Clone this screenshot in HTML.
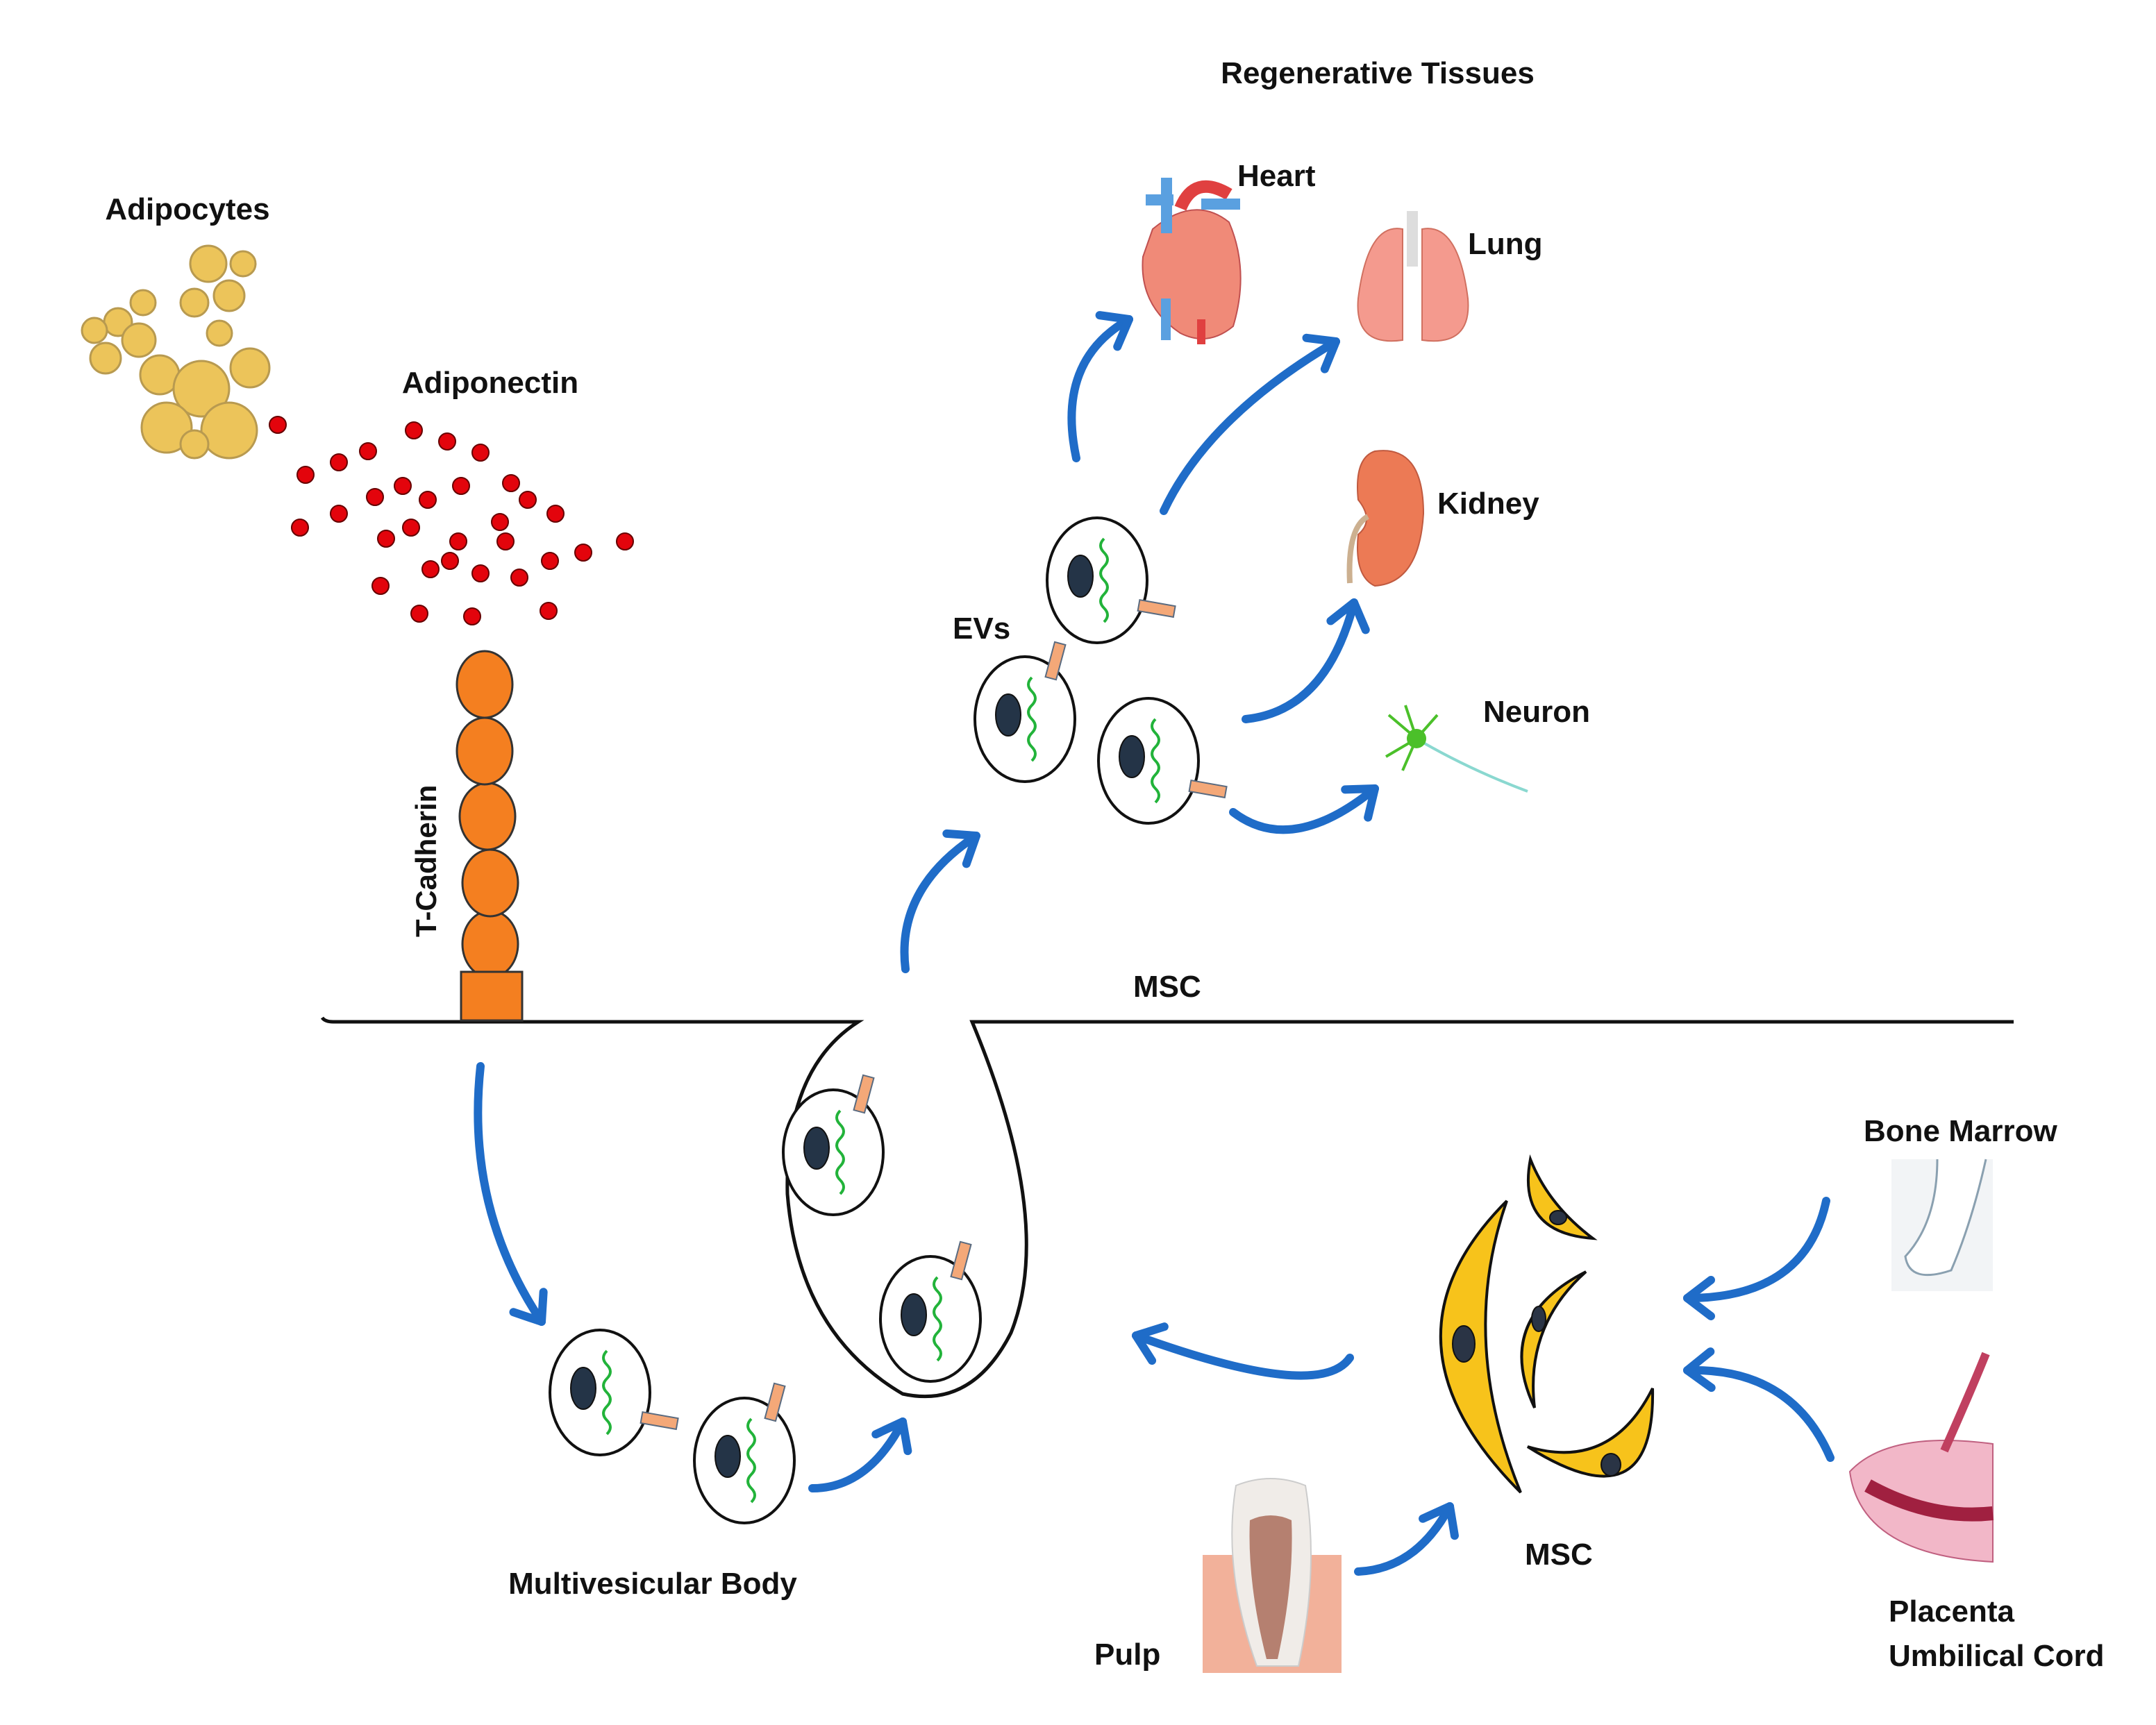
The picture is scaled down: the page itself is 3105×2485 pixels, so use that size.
<!DOCTYPE html>
<html><head><meta charset="utf-8"><style>
html,body{margin:0;padding:0;background:#fff;}
svg{display:block;}
text{font-family:"Liberation Sans",sans-serif;font-weight:bold;fill:#111;}
</style></head><body>
<svg width="3105" height="2485" viewBox="0 0 1552.5 1242.5" xmlns="http://www.w3.org/2000/svg">
<defs>
<marker id="ah" markerUnits="userSpaceOnUse" markerWidth="40" markerHeight="40" refX="0" refY="0" viewBox="-25 -20 30 40" orient="auto">
<path d="M-17,-13 L0,0 L-17,13" stroke="#1f6cc8" stroke-width="6" fill="none" stroke-linecap="round" stroke-linejoin="round"/>
</marker>
<g id="evb">
<ellipse cx="0" cy="0" rx="36" ry="45" fill="#fff" stroke="#111" stroke-width="2"/>
<ellipse cx="-12" cy="-3" rx="9" ry="15" fill="#243447" stroke="#111" stroke-width="1"/>
<path d="M5,-30 q-5,5 0,10 q5,5 0,10 q-5,5 0,10 q5,5 0,10 q-5,5 0,10 q5,5 0,10" stroke="#22b33a" stroke-width="2" fill="none"/>
</g>
<g id="ev">
<use href="#evb"/>
<rect x="18" y="-55" width="8" height="26" fill="#f4a878" stroke="#5a6b80" stroke-width="1" transform="rotate(15 22 -42)"/>
</g>
<g id="ev2">
<use href="#evb"/>
<rect x="30" y="14" width="26" height="8" fill="#f4a878" stroke="#5a6b80" stroke-width="1" transform="rotate(10 30 18)"/>
</g>
</defs>

<!-- membrane -->
<path d="M232,733 Q234,736 240,736 L618,736 Q565,770 567,860 Q575,960 650,1004 Q700,1015 728,960 Q760,880 700,736 L1450,736" fill="none" stroke="#111" stroke-width="2.5"/>

<!-- adipocytes -->
<g fill="#ecc45a" stroke="#b89a50" stroke-width="1.5">
<circle cx="150" cy="190" r="13"/><circle cx="175" cy="190" r="9"/><circle cx="140" cy="218" r="10"/><circle cx="165" cy="213" r="11"/>
<circle cx="103" cy="218" r="9"/><circle cx="85" cy="232" r="10"/><circle cx="68" cy="238" r="9"/><circle cx="100" cy="245" r="12"/>
<circle cx="158" cy="240" r="9"/><circle cx="76" cy="258" r="11"/><circle cx="115" cy="270" r="14"/><circle cx="180" cy="265" r="14"/>
<circle cx="145" cy="280" r="20"/><circle cx="120" cy="308" r="18"/><circle cx="165" cy="310" r="20"/><circle cx="140" cy="320" r="10"/>
</g>
<!-- adiponectin dots -->
<g fill="#e3040c" stroke="#600" stroke-width="1">
<circle cx="200" cy="306" r="6"/><circle cx="298" cy="310" r="6"/><circle cx="322" cy="318" r="6"/><circle cx="346" cy="326" r="6"/>
<circle cx="220" cy="342" r="6"/><circle cx="244" cy="333" r="6"/><circle cx="265" cy="325" r="6"/><circle cx="270" cy="358" r="6"/>
<circle cx="290" cy="350" r="6"/><circle cx="308" cy="360" r="6"/><circle cx="332" cy="350" r="6"/><circle cx="368" cy="348" r="6"/>
<circle cx="380" cy="360" r="6"/><circle cx="216" cy="380" r="6"/><circle cx="244" cy="370" r="6"/><circle cx="278" cy="388" r="6"/>
<circle cx="296" cy="380" r="6"/><circle cx="330" cy="390" r="6"/><circle cx="360" cy="376" r="6"/><circle cx="364" cy="390" r="6"/>
<circle cx="400" cy="370" r="6"/><circle cx="450" cy="390" r="6"/><circle cx="420" cy="398" r="6"/><circle cx="396" cy="404" r="6"/>
<circle cx="310" cy="410" r="6"/><circle cx="324" cy="404" r="6"/><circle cx="346" cy="413" r="6"/><circle cx="374" cy="416" r="6"/>
<circle cx="274" cy="422" r="6"/><circle cx="302" cy="442" r="6"/><circle cx="340" cy="444" r="6"/><circle cx="395" cy="440" r="6"/>
</g>
<!-- T-cadherin -->
<g fill="#f47f20" stroke="#333" stroke-width="1.5">
<ellipse cx="353" cy="680" rx="20" ry="24"/><ellipse cx="353" cy="636" rx="20" ry="24"/><ellipse cx="351" cy="588" rx="20" ry="24"/>
<ellipse cx="349" cy="541" rx="20" ry="24"/><ellipse cx="349" cy="493" rx="20" ry="24"/>
<rect x="332" y="700" width="44" height="35"/>
</g>
<text x="0" y="0" font-size="21" transform="translate(314,675) rotate(-90)">T-Cadherin</text>

<!-- EVs -->
<use href="#ev2" x="790" y="418"/>
<use href="#ev" x="738" y="518"/>
<use href="#ev2" x="827" y="548"/>
<use href="#ev" x="600" y="830"/>
<use href="#ev" x="670" y="950"/>
<use href="#ev2" x="432" y="1003"/>
<use href="#ev" x="536" y="1052"/>

<!-- arrows -->
<g fill="none" stroke="#1f6cc8" stroke-width="6" stroke-linecap="round" marker-end="url(#ah)">
<path d="M346,768 Q335,870 390,952"/>
<path d="M585,1072 Q625,1072 650,1024"/>
<path d="M652,698 Q645,640 703,602"/>
<path d="M775,330 Q760,260 813,230"/>
<path d="M838,368 Q870,300 962,246"/>
<path d="M897,518 Q955,512 975,434"/>
<path d="M888,585 Q930,617 990,568"/>
<path d="M972,978 Q950,1010 818,962"/>
<path d="M1315,865 Q1300,935 1215,935"/>
<path d="M1318,1050 Q1290,985 1215,987"/>
<path d="M978,1132 Q1020,1130 1044,1085"/>
</g>

<!-- MSC crescents -->
<g fill="#f7c31b" stroke="#111" stroke-width="2">
<path d="M1085,865 Q985,965 1095,1075 Q1050,965 1085,865 Z"/>
<path d="M1102,835 Q1092,888 1147,892 Q1115,868 1102,835 Z"/>
<path d="M1142,916 Q1075,950 1105,1014 Q1098,955 1142,916 Z"/>
<path d="M1190,1000 Q1192,1100 1100,1042 Q1160,1060 1190,1000 Z"/>
</g>
<g fill="#2a3445" stroke="#111">
<ellipse cx="1054" cy="968" rx="8" ry="13"/><ellipse cx="1122" cy="877" rx="6" ry="5"/><ellipse cx="1108" cy="950" rx="5" ry="9"/><ellipse cx="1160" cy="1055" rx="7" ry="8"/>
</g>

<!-- heart -->
<path d="M830,165 Q860,140 885,160 Q900,195 888,235 Q870,250 850,240 Q820,220 823,185 Z" fill="#f08a78" stroke="#c05050" stroke-width="1"/>
<rect x="836" y="128" width="8" height="40" fill="#5aa0e0"/><rect x="825" y="140" width="20" height="8" fill="#5aa0e0"/>
<path d="M850,150 Q860,125 885,140" stroke="#e04040" stroke-width="9" fill="none"/>
<rect x="865" y="143" width="28" height="8" fill="#5aa0e0"/>
<rect x="836" y="215" width="7" height="30" fill="#5aa0e0"/><rect x="862" y="230" width="6" height="18" fill="#e04040"/>
<!-- lung -->
<path d="M1010,165 Q985,160 978,215 Q975,250 1010,245 Z" fill="#f49a8e" stroke="#d07060"/>
<path d="M1024,165 Q1050,160 1057,215 Q1060,250 1024,245 Z" fill="#f49a8e" stroke="#d07060"/>
<rect x="1013" y="152" width="8" height="40" fill="#ddd"/>
<!-- kidney -->
<path d="M990,325 Q1025,320 1025,370 Q1022,420 990,422 Q975,415 978,385 Q990,375 978,360 Q975,330 990,325 Z" fill="#ec7a55" stroke="#c05a40"/>
<path d="M985,372 Q970,380 972,420" stroke="#ccb090" stroke-width="4" fill="none"/>
<!-- neuron -->
<g stroke="#4bc02a" stroke-width="2" fill="none">
<path d="M1020,532 L1000,515 M1020,532 L998,545 M1020,532 L1012,508 M1020,532 L1035,515 M1020,532 L1010,555"/>
</g>
<path d="M1025,535 Q1060,555 1100,570" stroke="#8ad8d0" stroke-width="2" fill="none"/>
<circle cx="1020" cy="532" r="7" fill="#4bc02a"/>
<!-- bone marrow -->
<path d="M1362,835 L1435,835 L1435,930 L1362,930 Z" fill="#f2f4f6"/>
<path d="M1395,835 Q1395,880 1372,905 Q1375,925 1405,915 Q1420,880 1430,835" stroke="#8aa0b0" stroke-width="1.5" fill="#fff"/>
<!-- placenta -->
<path d="M1435,1040 Q1360,1030 1332,1060 Q1340,1120 1435,1125 Z" fill="#f2b7c8" stroke="#c06080"/>
<path d="M1345,1070 Q1390,1095 1435,1090" stroke="#a02040" stroke-width="10" fill="none"/>
<path d="M1400,1045 Q1420,1000 1430,975" stroke="#c04060" stroke-width="6" fill="none"/>
<!-- tooth -->
<rect x="866" y="1120" width="100" height="85" fill="#f2b19a"/>
<path d="M890,1070 Q915,1060 940,1070 Q950,1130 935,1200 L905,1200 Q880,1130 890,1070 Z" fill="#f0ece8" stroke="#ccc"/>
<path d="M900,1095 Q915,1088 930,1095 Q932,1140 920,1195 L912,1195 Q898,1140 900,1095 Z" fill="#b58070"/>

<!-- labels -->
<g font-size="22">
<text x="992" y="60" text-anchor="middle">Regenerative Tissues</text>
<text x="135" y="158" text-anchor="middle">Adipocytes</text>
<text x="353" y="283" text-anchor="middle">Adiponectin</text>
<text x="891" y="134">Heart</text>
<text x="1057" y="183">Lung</text>
<text x="1035" y="370">Kidney</text>
<text x="1068" y="520">Neuron</text>
<text x="686" y="460">EVs</text>
<text x="816" y="718">MSC</text>
<text x="1342" y="822">Bone Marrow</text>
<text x="1098" y="1127">MSC</text>
<text x="470" y="1148" text-anchor="middle">Multivesicular Body</text>
<text x="788" y="1199">Pulp</text>
<text x="1360" y="1168">Placenta</text>
<text x="1360" y="1200">Umbilical Cord</text>
</g>
</svg>
</body></html>
